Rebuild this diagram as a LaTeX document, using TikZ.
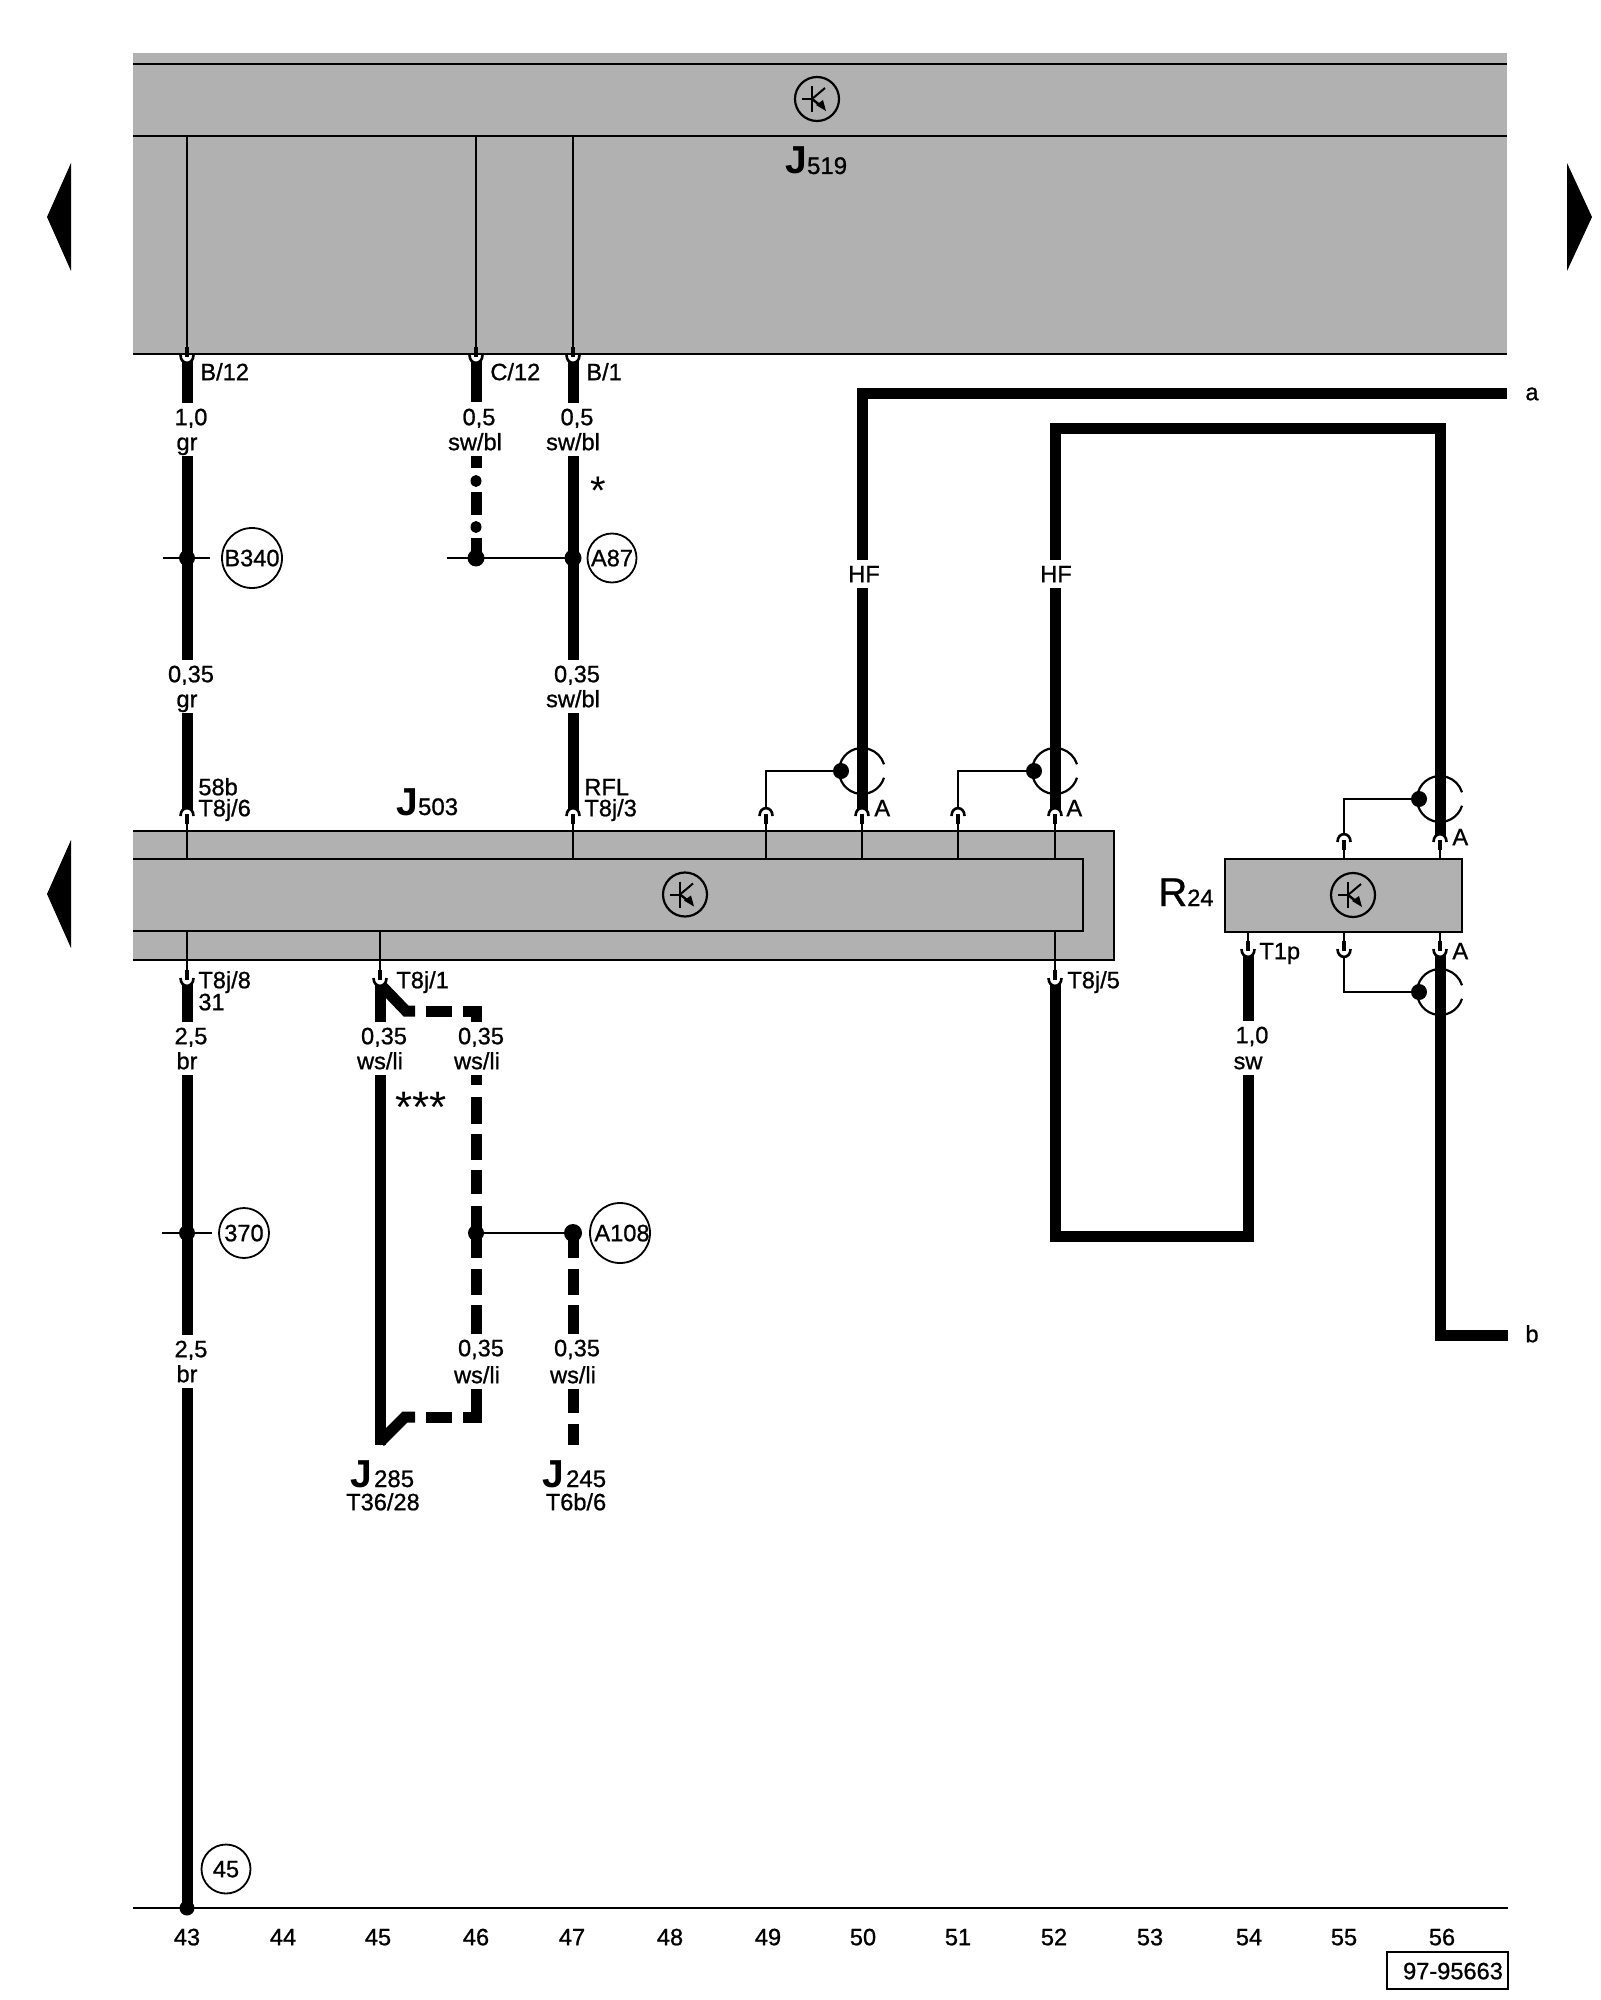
\documentclass[tikz,border=0pt]{standalone}
\usepackage{fontspec}
\setmainfont{Liberation Sans}
\newfontfamily\labf[FakeBold=0.9]{Liberation Sans}
\newfontfamily\labp{Liberation Sans}
\definecolor{boxgrey}{HTML}{B1B1B1}
\newcommand\labfont{\labf\fontsize{11.8}{12}\selectfont}
\newcommand\subfont{\labf\fontsize{12}{12}\selectfont}
\newcommand\bigJ{\labp\bfseries\fontsize{19.5}{20}\selectfont}
\tikzset{
  thinw/.style={line width=1pt,black},
  boxline/.style={line width=1.25pt,black},
  thickw/.style={line width=5.5pt,black,line join=miter},
  lab/.style={font=\labfont,inner sep=0pt,text height=8.2pt,text depth=0pt},
  termlab/.style={lab,anchor=west},
  gaplab/.style={lab,fill=white,minimum height=14pt,inner xsep=1pt},
  cir/.style={circle,draw=black,line width=0.9pt,inner sep=0pt,fill=white},
  shieldl/.style={line width=1.1pt,black},
  bignum/.style={inner sep=0pt,anchor=base west},
}
\newcommand\wirelab[6]{%
  \node[gaplab] (#4n) at (#1+4,#2) {#5};
  \node[gaplab] (#4c) at (#1,#3) {#6};}
\newcommand\hookup[2]{%
  \filldraw[fill=white,draw=black,line width=1.3pt] (#1-6.5,#2+8) .. controls (#1-6.5,#2-2.5) and (#1+6.5,#2-2.5) .. (#1+6.5,#2+8);
  \draw[line width=2pt] (#1,#2+6) -- (#1,#2+16);}
\newcommand\hookdn[2]{%
  \filldraw[fill=white,draw=black,line width=1.3pt] (#1-6.5,#2-8) .. controls (#1-6.5,#2+2.5) and (#1+6.5,#2+2.5) .. (#1+6.5,#2-8);
  \draw[line width=2pt] (#1,#2-6) -- (#1,#2-16);}
\newcommand\shieldsym[2]{%
  \draw[shieldl,shift={(#1,#2)}] (17:23) arc[start angle=17,end angle=343,radius=23];}
\newcommand\tsym[3]{%
  \node[circle,draw=black,line width=1.1pt,inner sep=0pt,minimum size=22pt] (#3) at (#1,#2) {};
  \begin{scope}[shift={(#1,#2)}]
    \draw[line width=1pt] (-15,0) -- (-5,0);
    \draw[line width=1pt] (-5,-13) -- (-5,13);
    \draw[line width=1pt] (-5,0) -- (8,-11);
    \draw[line width=1.2pt] (-5,0) -- (4,7);
    \fill (-1,6) -- (6,1) -- (9,12) -- cycle;
  \end{scope}}
\begin{document}
\begin{tikzpicture}[x=0.5pt,y=-0.5pt]
\useasboundingbox (0,0) rectangle (1600,2000);
\fill[white] (0,0) rectangle (1600,2000);
% --- page arrows
\fill (47,217) -- (71,163) -- (71,271) -- cycle;
\fill (47,894) -- (71,840) -- (71,948) -- cycle;
\fill (1592,217) -- (1567,163) -- (1567,271) -- cycle;
% --- J519
\fill[boxgrey] (133,53) rectangle (1507,354);
\draw[boxline] (133,64) -- (1507,64);
\draw[boxline] (133,136) -- (1507,136);
\draw[boxline] (133,354) -- (1507,354);
\tsym{817}{99}{tJ519}
\node[bignum] (J519) at (785,174) {{\bigJ J}\subfont 519};
% --- J503
\fill[boxgrey] (133,831) rectangle (1114,960);
\draw[boxline] (133,831) -- (1114,831) -- (1114,960) -- (133,960);
\draw[boxline] (133,859) -- (1083,859) -- (1083,931) -- (133,931);
\tsym{685}{894.5}{tJ503}
\node[bignum] (J503) at (396,815) {{\bigJ J}\subfont 503};
% --- R24
\node[rectangle,draw=black,line width=1.25pt,fill=boxgrey,inner sep=0pt,minimum width=118.5pt,minimum height=36.5pt] (R24box) at (1343.5,895.5) {};
\tsym{1353}{895}{tR24}
\node[bignum] (R24) at (1158,906) {{\labf\fontsize{20}{20}\selectfont R}{\labf\fontsize{11.8}{12}\selectfont 24}};
% --- named points
\coordinate (a43t) at (187,136); \coordinate (a43b) at (187,350);
\coordinate (a46t) at (476,136); \coordinate (a46b) at (476,350);
\coordinate (a47t) at (573,136); \coordinate (a47b) at (573,350);
\coordinate (w43a) at (187,360); \coordinate (w43b) at (187,810);
\coordinate (w47a) at (573,360); \coordinate (w47b) at (573,810);
\coordinate (w43c) at (187,984); \coordinate (w43d) at (187,1908);
\coordinate (aEnd) at (1507,393.5); \coordinate (aCor) at (862,393.5); \coordinate (aBot) at (862,810);
\coordinate (hf2B) at (1055,810); \coordinate (hf2L) at (1055,429); \coordinate (hf2R) at (1440,429); \coordinate (hf2E) at (1440,836);
\coordinate (bEnd) at (1508,1335); \coordinate (bCor) at (1440,1335); \coordinate (bTop) at (1440,953);
\coordinate (lA) at (1055,984); \coordinate (lB) at (1055,1236); \coordinate (lC) at (1248,1236); \coordinate (lD) at (1248,953);
% --- thin lines through the boxes
\draw[thinw] (a43t) -- (a43b);
\draw[thinw] (a46t) -- (a46b);
\draw[thinw] (a47t) -- (a47b);
\foreach \xx in {187,573,766,862,958,1055} \draw[thinw] (\xx,859) -- (\xx,820);
\foreach \xx in {187,380,1055} \draw[thinw] (\xx,931) -- (\xx,972);
\draw[thinw] (1248,932) -- (1248,942);
\draw[thinw] (1344,932) -- (1344,942);
\draw[thinw] (1440,932) -- (1440,942);
\draw[thinw] (1344,859) -- (1344,846);
\draw[thinw] (1440,859) -- (1440,846);
% --- thick solid wires
\draw[thickw] (w43a) -- (w43b);
\draw[thickw] (w47a) -- (w47b);
\draw[thickw] (w43c) -- (w43d);
\draw[thickw] (aEnd) -- (aCor) -- (aBot);
\draw[thickw] (hf2B) -- (hf2L) -- (hf2R) -- (hf2E);
\draw[thickw] (bEnd) -- (bCor) -- (bTop);
\draw[thickw] (lA) -- (lB) -- (lC) -- (lD);
% --- dash-dot wire 46
\draw[thickw] (476,360) -- (476,402);
\draw[thickw] (476,456) -- (476,468);
\fill (476,481) ellipse [x radius=5.5,y radius=6];
\draw[thickw] (476,492) -- (476,515);
\fill (476,527) ellipse [x radius=5.5,y radius=6];
\draw[thickw] (476,538) -- (476,558);
% --- J285 / J245 wires
\draw[thickw] (380,984) -- (380,1445);
\draw[thickw] (380,984) -- (406,1011) -- (415,1011);
\draw[thickw] (426,1011) -- (452,1011);
\draw[thickw] (463,1011) -- (476,1011) -- (476,1023);
\foreach \ya/\yb in {1075/1085,1097/1124,1134/1160,1170/1194,1206/1258,1269/1295,1305/1335} \draw[thickw] (476,\ya) -- (476,\yb);
\draw[thickw] (476,1388) -- (476,1417) -- (463,1417);
\draw[thickw] (452,1417) -- (426,1417);
\draw[thickw] (415,1417) -- (405,1417) -- (380,1442);
\foreach \ya/\yb in {1233/1258,1269/1295,1305/1335,1388/1413,1424/1445} \draw[thickw] (573,\ya) -- (573,\yb);
% --- splices
\draw[thinw] (163,558) -- (210,558);
\draw[thinw] (447,558) -- (573,558);
\draw[thinw] (162,1233) -- (212,1233);
\draw[thinw] (476,1233) -- (573,1233);
\foreach \xx/\yy/\rr in {187/558/8,476/558/8.5,573/558/8.5,187/1233/8,476/1233/8,573/1233/9,187/1908/7.5} \fill (\xx,\yy) circle[radius=\rr];
\node[cir,minimum size=30pt] (cB340) at (252,558) {};
\node[lab] (tB340) at (cB340) {B340};
\node[cir,minimum size=24.5pt] (cA87) at (612,558) {};
\node[lab] (tA87) at (cA87) {A87};
\node[cir,minimum size=25pt] (c370) at (244,1233) {};
\node[lab] (t370) at (c370) {370};
\node[cir,minimum size=30pt] (cA108) at (620,1233) {};
\node[lab] (tA108) at (622,1233) {A108};
\node[cir,minimum size=24.5pt] (c45) at (226,1869) {};
\node[lab] (t45) at (c45) {45};
% --- shields
\shieldsym{862}{771}
\shieldsym{1055}{771}
\shieldsym{1440}{799}
\shieldsym{1440}{992}
\fill (841,771) circle[radius=8];
\fill (1034,771) circle[radius=8];
\fill (1419,799) circle[radius=8];
\fill (1419,992) circle[radius=8];
\draw[thinw] (841,771) -- (766,771) -- (766,810);
\draw[thinw] (1034,771) -- (958,771) -- (958,810);
\draw[thinw] (1419,799) -- (1344,799) -- (1344,836);
\draw[thinw] (1419,992) -- (1344,992) -- (1344,955);
% --- connector hooks
\foreach \xx in {187,476,573} {\hookdn{\xx}{363}}
\foreach \xx in {187,573,766,862,958,1055} {\hookup{\xx}{808}}
\foreach \xx in {1344,1440} {\hookup{\xx}{834}}
\foreach \xx in {187,380,1055} {\hookdn{\xx}{986}}
\foreach \xx in {1248,1344,1440} {\hookdn{\xx}{957}}
% --- wire labels
\wirelab{187}{417}{442}{La}{1,0}{gr}
\wirelab{475}{417}{442}{Lb}{0,5}{sw/bl}
\wirelab{573}{417}{442}{Lc}{0,5}{sw/bl}
\wirelab{187}{674}{699}{Ld}{0,35}{gr}
\wirelab{573}{674}{699}{Le}{0,35}{sw/bl}
\wirelab{187}{1036}{1061}{Lf}{2,5}{br}
\wirelab{380}{1036}{1061}{Lg}{0,35}{ws/li}
\wirelab{477}{1036}{1061}{Lh}{0,35}{ws/li}
\wirelab{1248}{1035}{1061}{Li}{1,0}{sw}
\wirelab{187}{1349}{1374}{Lj}{2,5}{br}
\wirelab{477}{1348}{1375}{Lk}{0,35}{ws/li}
\wirelab{573}{1348}{1375}{Ll}{0,35}{ws/li}
\node[gaplab] (HFa) at (864,574) {HF};
\node[gaplab] (HFb) at (1056,574) {HF};
% --- terminal labels
\node[termlab] (tB12) at (200,372) {B/12};
\node[termlab] (tC12) at (490,372) {C/12};
\node[termlab] (tB1) at (586,372) {B/1};
\node[termlab] (t58b) at (198,787) {58b};
\node[termlab] (t86) at (198,808) {T8j/6};
\node[termlab] (tRFL) at (584,787) {RFL};
\node[termlab] (t83) at (584,808) {T8j/3};
\node[termlab] (tA1) at (874,808) {A};
\node[termlab] (tA2) at (1066,808) {A};
\node[termlab] (tA3) at (1452,837) {A};
\node[termlab] (tA4) at (1452,951) {A};
\node[termlab] (tT1p) at (1259,951) {T1p};
\node[termlab] (t88) at (198,980) {T8j/8};
\node[termlab] (t31) at (198,1002) {31};
\node[termlab] (t81) at (396,980) {T8j/1};
\node[termlab] (t85) at (1067,980) {T8j/5};
\node[lab] (ta) at (1532,392) {a};
\node[lab] (tb) at (1532,1334) {b};
\node[inner sep=0pt,font=\labp\fontsize{20}{20}\selectfont] (star1) at (598,491) {*};
\node[inner sep=0pt,font=\labp\fontsize{22}{22}\selectfont] (star3) at (421,1107) {***};
% --- end designations
\node[bignum] (J285) at (350,1487) {{\bigJ J}\kern1pt\subfont 285};
\node[lab] (T3628) at (383,1502) {T36/28};
\node[bignum] (J245) at (542,1487) {{\bigJ J}\kern1pt\subfont 245};
\node[lab] (T6b6) at (576,1502) {T6b/6};
% --- foot
\coordinate (footL) at (133,1908); \coordinate (footR) at (1508,1908);
\draw[line width=1.1pt] (footL) -- (footR);
\foreach \nn/\xx in {43/187,44/283,45/378,46/476,47/572,48/670,49/768,50/863,51/958,52/1054,53/1150,54/1249,55/1344,56/1442}
  {\node[lab] (col\nn) at (\xx,1937) {\nn};}
\node[rectangle,draw=black,line width=1.1pt,inner sep=0pt,minimum width=60.5pt,minimum height=18.5pt] (refbox) at (1447.5,1970.5) {};
\node[lab] (reftext) at (1453,1971) {97-95663};
\end{tikzpicture}
\end{document}
